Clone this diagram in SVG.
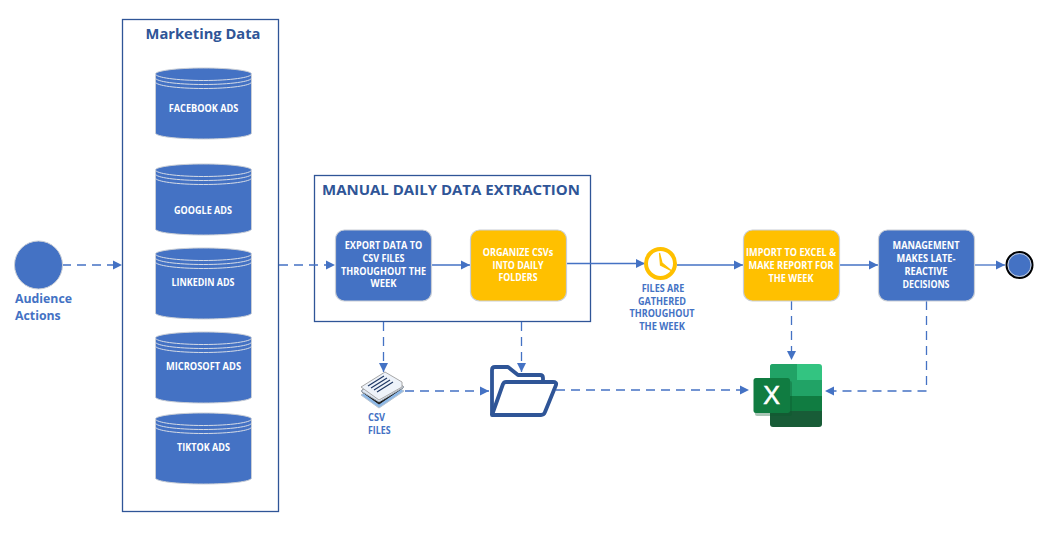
<svg xmlns="http://www.w3.org/2000/svg" width="1056" height="536" viewBox="0 0 1056 536">
<style>
text{font-family:"Open Sans","Noto Sans","Liberation Sans",sans-serif;font-weight:700}
.w,.b{font-size:10.300px;text-anchor:middle}
.w{fill:#fff}
.b{fill:#4472c4}
.frame{fill:#fff;stroke:#2f5597;stroke-width:1.300}
.title{fill:#2f5597}
.box{stroke:#c9ced6;stroke-width:1.200}
.blue{fill:#4472c4}.gold{fill:#ffc000}
.cyl{fill:#4472c4;stroke:#c9ced6;stroke-width:1}
.arc{fill:none;stroke:#d5dbe6;stroke-width:1}
.c{fill:none;stroke:#4472c4;stroke-width:1.300}
.d{stroke-dasharray:9 6}
</style>
<defs>
<marker id="ah" markerUnits="userSpaceOnUse" markerWidth="10" markerHeight="10" refX="9" refY="5" orient="auto"><path d="M0 0.500L9 5L0 9.500Z" fill="#4472c4"/></marker>
<g id="cylinder">
<path class="cyl" d="M155.500 6V65C155.500 68.500 177 71 203.500 71S251.500 68.500 251.500 65V6C251.500 2.700 230 0 203.500 0S155.500 2.700 155.500 6Z"/>
<path class="arc" d="M155.500 6C155.500 9.500 177 12.500 203.500 12.500S251.500 9.500 251.500 6M155.500 10C155.500 13.500 177 16.500 203.500 16.500S251.500 13.500 251.500 10M155.500 14C155.500 17.500 177 20.500 203.500 20.500S251.500 17.500 251.500 14"/>
</g>
</defs>
<rect width="1056" height="536" fill="#fff"/>
<g id="marketing-frame"><rect class="frame" x="122.500" y="19.500" width="156" height="492"/><text class="title" x="203" y="39" font-size="14.700" text-anchor="middle">Marketing Data</text></g>
<g id="manual-frame"><rect class="frame" x="314.500" y="175.500" width="276" height="146"/><text class="title" x="322" y="195" font-size="15">MANUAL DAILY DATA EXTRACTION</text></g>
<g id="connectors">
<path class="c d" marker-end="url(#ah)" d="M62 265H122"/>
<path class="c d" marker-end="url(#ah)" d="M279 265H335"/>
<path class="c" marker-end="url(#ah)" d="M431 265H470"/>
<path class="c" marker-end="url(#ah)" d="M566 263.500H645"/>
<path class="c" marker-end="url(#ah)" d="M677 265H743"/>
<path class="c" marker-end="url(#ah)" d="M839 265H878"/>
<path class="c" marker-end="url(#ah)" d="M974 265H1005"/>
<path class="c d" marker-end="url(#ah)" d="M383.500 322V372"/>
<path class="c d" marker-end="url(#ah)" d="M521.500 322V372"/>
<path class="c d" marker-end="url(#ah)" d="M405 391H489"/>
<path class="c d" marker-end="url(#ah)" d="M556 390H749"/>
<path class="c d" marker-end="url(#ah)" d="M791.500 301V360"/>
<path class="c d" marker-end="url(#ah)" d="M926.500 301V391H825"/>
</g>
<g id="audience"><circle cx="38.500" cy="265" r="24" fill="#4472c4" stroke="#c9ced6"/><text x="15" y="303" font-size="12.300" fill="#4472c4">Audience</text><text x="15" y="320" font-size="12.300" fill="#4472c4">Actions</text></g>
<g id="facebook"><use href="#cylinder" y="68"/><text class="w" x="203.500" y="112" textLength="69.500" lengthAdjust="spacingAndGlyphs">FACEBOOK ADS</text></g>
<g id="google"><use href="#cylinder" y="164"/><text class="w" x="203" y="214" textLength="58" lengthAdjust="spacingAndGlyphs">GOOGLE ADS</text></g>
<g id="linkedin"><use href="#cylinder" y="248"/><text class="w" x="203" y="286" textLength="63" lengthAdjust="spacingAndGlyphs">LINKEDIN ADS</text></g>
<g id="microsoft"><use href="#cylinder" y="332"/><text class="w" x="203.500" y="370" textLength="75" lengthAdjust="spacingAndGlyphs">MICROSOFT ADS</text></g>
<g id="tiktok"><use href="#cylinder" y="413"/><text class="w" x="203.500" y="451" textLength="53" lengthAdjust="spacingAndGlyphs">TIKTOK ADS</text></g>
<g id="export"><rect class="box blue" x="335.500" y="230" width="96" height="71" rx="9"/><text class="w" x="383.500" y="249" textLength="77.500" lengthAdjust="spacingAndGlyphs">EXPORT DATA TO</text><text class="w" x="383.500" y="262" textLength="42" lengthAdjust="spacingAndGlyphs">CSV FILES</text><text class="w" x="383.500" y="275" textLength="85" lengthAdjust="spacingAndGlyphs">THROUGHOUT THE</text><text class="w" x="383.500" y="287" textLength="26" lengthAdjust="spacingAndGlyphs">WEEK</text></g>
<g id="organize"><rect class="box gold" x="470.500" y="230" width="96" height="71" rx="9"/><text class="w" x="518" y="255.500" textLength="70.500" lengthAdjust="spacingAndGlyphs">ORGANIZE CSVs</text><text class="w" x="518" y="268.500" textLength="51" lengthAdjust="spacingAndGlyphs">INTO DAILY</text><text class="w" x="518" y="281" textLength="39" lengthAdjust="spacingAndGlyphs">FOLDERS</text></g>
<g id="clock"><circle cx="660.500" cy="263.500" r="14.500" fill="#fff" stroke="#ffc000" stroke-width="4"/><path d="M659.500 253L660.500 265L671 270.500L662 263Z" fill="#ffc000" stroke="#ffc000" stroke-width="1.200"/></g>
<g id="clock-label"><text class="b" x="663" y="292" textLength="42.700" lengthAdjust="spacingAndGlyphs">FILES ARE</text><text class="b" x="662" y="305" textLength="48" lengthAdjust="spacingAndGlyphs">GATHERED</text><text class="b" x="662" y="317" textLength="65" lengthAdjust="spacingAndGlyphs">THROUGHOUT</text><text class="b" x="662" y="330" textLength="45.700" lengthAdjust="spacingAndGlyphs">THE WEEK</text></g>
<g id="import"><rect class="box gold" x="743.500" y="230" width="96" height="71" rx="9"/><text class="w" x="791" y="255.500" textLength="90" lengthAdjust="spacingAndGlyphs">IMPORT TO EXCEL &amp;</text><text class="w" x="791" y="268.500" textLength="85" lengthAdjust="spacingAndGlyphs">MAKE REPORT FOR</text><text class="w" x="791" y="281.500" textLength="45" lengthAdjust="spacingAndGlyphs">THE WEEK</text></g>
<g id="management"><rect class="box blue" x="878.500" y="230" width="96" height="71" rx="9"/><text class="w" x="926" y="249" textLength="67" lengthAdjust="spacingAndGlyphs">MANAGEMENT</text><text class="w" x="926" y="262" textLength="59" lengthAdjust="spacingAndGlyphs">MAKES LATE-</text><text class="w" x="926" y="275" textLength="43" lengthAdjust="spacingAndGlyphs">REACTIVE</text><text class="w" x="926" y="287.500" textLength="47" lengthAdjust="spacingAndGlyphs">DECISIONS</text></g>
<g id="end"><circle cx="1019.500" cy="265" r="13" fill="#4472c4" stroke="#000" stroke-width="2"/><circle cx="1019.500" cy="265" r="11.500" fill="none" stroke="#c9ced6" stroke-width="1"/></g>
<g id="csv-files">
<path d="M361 395L385 380L404 391L379 408Z" fill="#8db8e6" stroke="#b8c4d0"/>
<path d="M361 391L385 376L404 387L379 404Z" fill="#111" stroke="#222"/>
<path d="M361 391L385 376L404 387L379 402Z" fill="#dfe7f2" stroke="#aab4c0"/>
<path d="M361 387L385 372L402 382L402 387L379 400Z" fill="#eef3fa" stroke="#a8a8a8"/>
<path d="M368 386L384 376M371 388L387 378M374 390L390 380M377 392L393 382" stroke="#1f3864" stroke-width="1.200" fill="none"/>
<text class="b" x="368" y="421" style="text-anchor:start" textLength="17" lengthAdjust="spacingAndGlyphs">CSV</text><text class="b" x="368" y="433.500" style="text-anchor:start" textLength="22.600" lengthAdjust="spacingAndGlyphs">FILES</text>
</g>
<g id="folder" fill="none" stroke="#2f5597" stroke-width="3.800" stroke-linejoin="round"><path d="M492 415V370Q492 367 495 367H508L518 375H540Q543 375 543 378V383"/><path d="M503 384Q504 382 506 382H553Q557 382 556 385L545 412Q544 415 541 415H492Z"/></g>
<g id="excel">
<path d="M773 364H819Q822 364 822 367V380H770V367Q770 364 773 364Z" fill="#33c481"/>
<path d="M797 364H773Q770 364 770 367V380H797Z" fill="#21a366"/>
<rect x="770" y="380" width="52" height="16" fill="#21a366"/>
<rect x="770" y="396" width="52" height="15.500" fill="#107c41"/>
<path d="M770 411H822V424Q822 427 819 427H773Q770 427 770 424Z" fill="#185c37"/>
<rect x="755" y="381" width="37" height="35" rx="2" fill="#0b5a2e" opacity=".35"/>
<rect x="753.500" y="378" width="36.500" height="35" rx="2.500" fill="#107c41"/>
<text x="771.500" y="404" font-size="25" fill="#fff" text-anchor="middle" style="font-family:'Liberation Sans',sans-serif;font-weight:400;stroke:#fff;stroke-width:.6">X</text>
</g>
</svg>
